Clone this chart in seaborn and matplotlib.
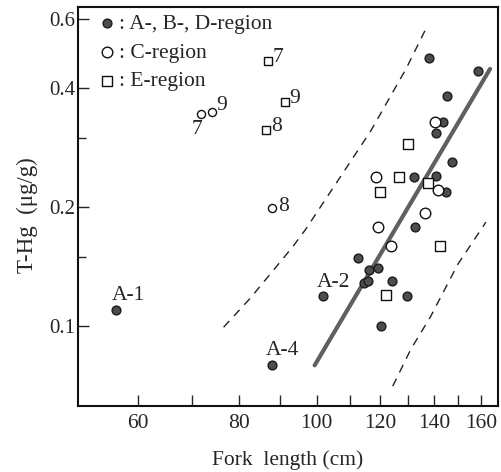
import matplotlib
matplotlib.use("Agg")
import matplotlib.pyplot as plt
import seaborn as sns
import pandas as pd
from matplotlib.ticker import FixedLocator, FixedFormatter, NullFormatter

# ---------------- data ----------------
# A-, B-, D-region (filled circles)
abd_x = [56.3, 88.1, 101.7, 112.5, 116.1, 119.1, 114.4, 115.7, 124.0, 129.4,
         120.1, 132.4, 144.8, 137.9, 158.7, 145.2, 143.5, 140.7, 147.3, 140.7, 132.1]
abd_y = [0.110, 0.0796, 0.119, 0.149, 0.139, 0.140, 0.129, 0.130, 0.130, 0.119,
         0.100, 0.178, 0.219, 0.478, 0.443, 0.383, 0.329, 0.309, 0.260, 0.240, 0.239]
abd_names = ["A-1", "A-4", "A-2"] + [""] * 18

# C-region (open circles); the first three carry number labels
c_x = [71.9, 74.0, 87.9, 140.3, 118.4, 141.5, 136.3, 119.1, 123.6]
c_y = [0.345, 0.349, 0.199, 0.329, 0.239, 0.221, 0.193, 0.178, 0.160]
c_names = ["7", "9", "8", "", "", "", "", "", ""]

# E-region (open squares); the first three carry number labels
e_x = [86.9, 91.2, 86.4, 129.8, 126.5, 137.5, 119.8, 142.3, 121.9]
e_y = [0.470, 0.370, 0.314, 0.289, 0.239, 0.230, 0.219, 0.160, 0.120]
e_names = ["7", "9", "8", "", "", "", "", "", ""]

# regression line and dashed limits
fit_x = [99.4, 164.2]
fit_y = [0.0796, 0.448]
upper_x = [76.6, 82.7, 93.3, 96.9, 116.7, 129.1, 136.3]
upper_y = [0.0994, 0.1178, 0.1586, 0.176, 0.312, 0.448, 0.560]
lower_x = [124.3, 130.9, 138.6, 149.8, 162.3]
lower_y = [0.0705, 0.0874, 0.106, 0.1436, 0.1835]

x_major = [60, 80, 100, 120, 140, 160]
x_minor = [70, 90, 110, 130, 150]
y_major = [0.1, 0.2, 0.4, 0.6]
y_major_labels = ["0.1", "0.2", "0.4", "0.6"]
y_minor = [0.15, 0.3]

legend_labels = [": A-, B-, D-region", ": C-region", ": E-region"]

# ---------------- style ----------------
sns.set_style("ticks")
plt.rcParams["font.family"] = ["Liberation Serif", "DejaVu Serif"]
plt.rcParams["font.size"] = 15

fig = plt.figure(figsize=(5.01, 4.72), dpi=100)
ax = fig.add_axes([78 / 501, 1 - 406 / 472, 420 / 501, 399 / 472])
ax.set_xscale("log")
ax.set_yscale("log")

abd = pd.DataFrame({"x": abd_x, "y": abd_y, "name": abd_names})
cdf = pd.DataFrame({"x": c_x, "y": c_y, "name": c_names})
edf = pd.DataFrame({"x": e_x, "y": e_y, "name": e_names})

# lines
sns.lineplot(x=upper_x, y=upper_y, sort=False, estimator=None, ax=ax,
             color="#222222", lw=1.0, linestyle=(0, (6, 5)))
sns.lineplot(x=lower_x, y=lower_y, sort=False, estimator=None, ax=ax,
             color="#222222", lw=1.0, linestyle=(0, (6, 5)))
sns.lineplot(x=fit_x, y=fit_y, sort=False, estimator=None, ax=ax,
             color="#606060", lw=3.0, solid_capstyle="round")

# points
sns.scatterplot(data=abd, x="x", y="y", ax=ax, marker="o", s=40,
                color="#4d4d4d", edgecolor="#1a1a1a", linewidth=1.0,
                label=legend_labels[0], zorder=5)
c_lab = cdf[cdf["name"] != ""]
c_rest = cdf[cdf["name"] == ""]
e_lab = edf[edf["name"] != ""]
e_rest = edf[edf["name"] == ""]
sns.scatterplot(data=c_rest, x="x", y="y", ax=ax, marker="o", s=58,
                facecolor="white", edgecolor="#111111", linewidth=1.0,
                label=legend_labels[1], zorder=5)
sns.scatterplot(data=c_lab, x="x", y="y", ax=ax, marker="o", s=34,
                facecolor="white", edgecolor="#111111", linewidth=1.0, zorder=5)
sns.scatterplot(data=e_rest, x="x", y="y", ax=ax, marker="s", s=48,
                facecolor="white", edgecolor="#111111", linewidth=1.0,
                label=legend_labels[2], zorder=5)
sns.scatterplot(data=e_lab, x="x", y="y", ax=ax, marker="s", s=28,
                facecolor="white", edgecolor="#111111", linewidth=1.0, zorder=5)

# annotations
offs_abd = {"A-1": (12, 14), "A-4": (10, 15), "A-2": (11, 14)}
for _, r in abd[abd["name"] != ""].iterrows():
    ax.annotate(r["name"], (r["x"], r["y"]), xytext=offs_abd[r["name"]],
                textcoords="offset pixels", ha="center", va="center", fontsize=15.5)
offs_c = {"7": (-4, -16), "9": (5, 6), "8": (6, 2)}
for _, r in c_lab.iterrows():
    ax.annotate(r["name"], (r["x"], r["y"]), xytext=offs_c[r["name"]],
                textcoords="offset pixels",
                ha="center" if r["name"] == "7" else "left", va="center", fontsize=15.5)
for _, r in e_lab.iterrows():
    ax.annotate(r["name"], (r["x"], r["y"]), xytext=(5, 3),
                textcoords="offset pixels", ha="left", va="center", fontsize=15.5)

# axes
ax.set_xlim(50.5, 168)
ax.set_ylim(0.0628, 0.643)
ax.xaxis.set_major_locator(FixedLocator(x_major))
ax.xaxis.set_major_formatter(FixedFormatter([str(v) for v in x_major]))
ax.xaxis.set_minor_locator(FixedLocator(x_minor))
ax.xaxis.set_minor_formatter(NullFormatter())
ax.yaxis.set_major_locator(FixedLocator(y_major))
ax.yaxis.set_major_formatter(FixedFormatter(y_major_labels))
ax.yaxis.set_minor_locator(FixedLocator(y_minor))
ax.yaxis.set_minor_formatter(NullFormatter())

ax.tick_params(axis="x", which="both", direction="in", length=8, width=1.0,
               pad=6, labelsize=15.5, top=False)
ax.tick_params(axis="y", which="major", direction="in", length=8, width=1.0,
               pad=2, labelsize=15, right=False)
ax.tick_params(axis="y", which="minor", direction="in", length=6, width=1.0,
               right=False)
for s in ax.spines.values():
    s.set_linewidth(1.5)
    s.set_color("#111111")
    s.set_visible(True)

ax.set_xlabel("Fork  length (cm)", fontsize=15.5, labelpad=12)
ax.set_ylabel("T-Hg  (μg/g)", fontsize=16.5, labelpad=8)
ax.yaxis.label.set_y(0.479)

ax.legend(loc="upper left", bbox_to_anchor=(0.012, 1.015), frameon=False,
          handletextpad=0.05, labelspacing=0.4, handlelength=1.0,
          borderaxespad=0.2, fontsize=15.5)

fig.savefig("out.png", dpi=100)
